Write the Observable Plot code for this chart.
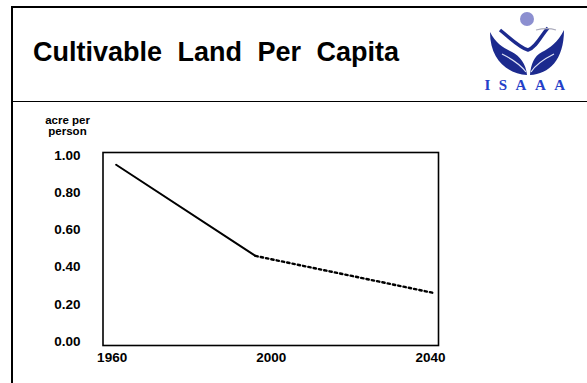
<!DOCTYPE html>
<html>
<head>
<meta charset="utf-8">
<script src="https://cdn.jsdelivr.net/npm/d3@7"></script>
<script src="https://cdn.jsdelivr.net/npm/@observablehq/plot@0.6"></script>
<style>
  html, body { margin: 0; padding: 0; background: #fff; }
  #page { position: relative; width: 587px; height: 383px; overflow: hidden; font-family: "Liberation Sans", Arial, Helvetica, sans-serif; }
  #topline { position: absolute; left: 11px; top: 6px; width: 576px; height: 1.5px; background: #000; }
  #leftline { position: absolute; left: 11px; top: 6px; width: 1.5px; height: 377px; background: #000; }
  #midline { position: absolute; left: 11px; top: 100.5px; width: 576px; height: 1.5px; background: #000; }
  #title { position: absolute; left: 33px; top: 39px; font-size: 27px; line-height: 27px; font-weight: bold; color: #000; word-spacing: 8px; white-space: pre; }
  #logo { position: absolute; left: 480px; top: 8px; }
  #chart { position: absolute; left: 0; top: 101px; }
</style>
</head>
<body>
<div id="page">
  <div id="topline"></div>
  <div id="leftline"></div>
  <div id="midline"></div>
  <div id="title">Cultivable Land Per Capita</div>
  <svg id="logo" width="100" height="90" viewBox="0 0 100 90">
    <circle cx="47" cy="11" r="7" fill="#8c8fd0"/>
    <path d="M47 67 C 28 66, 10 52, 10 24 C 16 36, 24 40, 32 44 C 40 48, 46 56, 47 67 Z" fill="#1c2a8e"/>
    <path d="M50 67 C 69 66, 84 52, 84 22 C 78 34, 70 40, 62 44 C 54 48, 51 56, 50 67 Z" fill="#1c2a8e"/>
    <path d="M22 46 C 30 50, 40 56, 46 64" fill="none" stroke="#dfe3f5" stroke-width="1.2"/>
    <path d="M74 46 C 66 50, 56 56, 51 64" fill="none" stroke="#dfe3f5" stroke-width="1.2"/>
    <path d="M20 22 C 30 30, 40 40, 48 42 C 56 40, 62 26, 68 20" fill="none" stroke="#1c2a8e" stroke-width="3.5"/>
    <path d="M56 22 C 64 20, 70 20, 76 22" fill="none" stroke="#aab" stroke-width="1.2"/>
    <text x="49" y="82" text-anchor="middle" font-family="Liberation Serif, Times New Roman, serif" font-size="15" font-weight="bold" fill="#2440c8" letter-spacing="8.5">ISAAA</text>
  </svg>
  <div id="chart"></div>
</div>
<script>
const years = [1960, 1995, 2040];
const values = [0.95, 0.46, 0.26];
const yTicks = [0, 0.2, 0.4, 0.6, 0.8, 1.0];
const xTicks = [1960, 2000, 2040];
const yLabel = ["acre per", "person"];

const actual = years.slice(0, 2).map((x, i) => ({x, y: values[i]}));
const projected = years.slice(1).map((x, i) => ({x, y: values[i + 1]}));

const chart = Plot.plot({
  width: 587,
  height: 282,
  marginLeft: 102.5,
  marginRight: 149,
  marginTop: 51,
  marginBottom: 38,
  style: {fontFamily: "Liberation Sans, Arial, sans-serif", fontWeight: "bold", background: "transparent"},
  x: {domain: [1956.7, 2041], axis: null},
  y: {domain: [-0.0215, 1.016], axis: null},
  marks: [
    Plot.frame({stroke: "#000", strokeWidth: 1.6}),
    Plot.line(actual, {x: "x", y: "y", stroke: "#000", strokeWidth: 2}),
    Plot.line(projected, {x: "x", y: "y", stroke: "#000", strokeWidth: 2.4, strokeDasharray: "2.4,3"}),
    Plot.text(yTicks, {x: 1956.7, y: d => d, text: d => d.toFixed(2), textAnchor: "end", dx: -22.5, fontSize: 13.5, fontWeight: "bold", fill: "#000"}),
    Plot.text(xTicks, {x: d => d, y: -0.0215, text: d => String(d), textAnchor: "middle", dy: 12, dx: -4, fontSize: 13.5, fontWeight: "bold", fill: "#000"}),
    Plot.text([yLabel.join("\n")], {x: 1956.7, y: 1.016, text: d => d, textAnchor: "middle", lineAnchor: "bottom", dx: -35.5, dy: -18, fontSize: 11.5, fontWeight: "bold", fill: "#000", lineHeight: 0.95})
  ]
});
document.getElementById("chart").appendChild(chart);
</script>
</body>
</html>
